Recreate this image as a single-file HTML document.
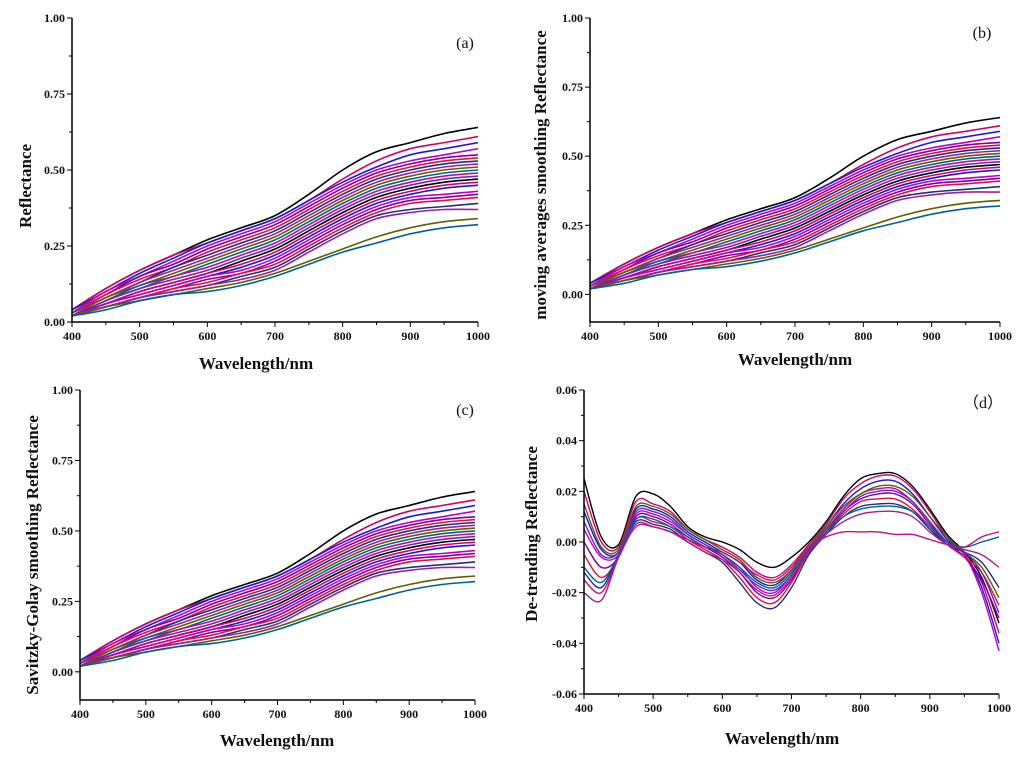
<!DOCTYPE html>
<html><head><meta charset="utf-8">
<style>
html,body{margin:0;padding:0;background:#fff;}
svg{display:block;font-family:"Liberation Serif",serif;}
.tk{font-size:12px;font-weight:bold;fill:#111;}
.tt{font-size:17px;font-weight:bold;fill:#111;}
.pl{font-size:16px;fill:#111;}
</style></head>
<body>
<svg id="fig" width="1024" height="761" viewBox="0 0 1024 761"></svg>
<script>
const wl = [400,450,500,550,600,650,700,750,800,850,900,950,1000];
const refl = [
[0.04,0.11,0.17,0.22,0.27,0.31,0.35,0.42,0.50,0.56,0.59,0.62,0.64],
[0.04,0.11,0.17,0.22,0.26,0.30,0.34,0.40,0.47,0.53,0.57,0.59,0.61],
[0.04,0.10,0.16,0.21,0.26,0.30,0.34,0.40,0.46,0.51,0.55,0.57,0.59],
[0.03,0.10,0.15,0.20,0.25,0.29,0.33,0.39,0.45,0.50,0.53,0.55,0.57],
[0.03,0.09,0.15,0.19,0.24,0.28,0.32,0.38,0.44,0.49,0.52,0.54,0.55],
[0.03,0.09,0.14,0.18,0.23,0.27,0.31,0.37,0.43,0.48,0.51,0.53,0.54],
[0.03,0.08,0.13,0.18,0.22,0.26,0.30,0.36,0.42,0.47,0.50,0.52,0.53],
[0.03,0.08,0.13,0.17,0.21,0.25,0.29,0.35,0.41,0.46,0.49,0.51,0.52],
[0.02,0.08,0.12,0.16,0.20,0.24,0.28,0.34,0.40,0.45,0.48,0.50,0.51],
[0.02,0.07,0.12,0.15,0.19,0.23,0.27,0.33,0.39,0.44,0.47,0.49,0.50],
[0.02,0.07,0.11,0.15,0.18,0.22,0.26,0.32,0.38,0.43,0.46,0.48,0.49],
[0.02,0.07,0.11,0.14,0.17,0.21,0.25,0.31,0.37,0.42,0.45,0.47,0.48],
[0.02,0.06,0.10,0.13,0.16,0.20,0.24,0.30,0.36,0.41,0.44,0.46,0.47],
[0.02,0.06,0.10,0.13,0.16,0.19,0.23,0.29,0.35,0.40,0.43,0.45,0.46],
[0.02,0.06,0.09,0.12,0.15,0.18,0.22,0.28,0.34,0.39,0.42,0.44,0.45],
[0.02,0.06,0.09,0.12,0.15,0.17,0.21,0.27,0.33,0.38,0.41,0.42,0.43],
[0.02,0.05,0.08,0.11,0.14,0.16,0.20,0.26,0.32,0.37,0.40,0.41,0.42],
[0.02,0.05,0.08,0.11,0.13,0.16,0.19,0.25,0.31,0.36,0.39,0.40,0.41],
[0.02,0.05,0.08,0.10,0.12,0.15,0.18,0.24,0.30,0.35,0.37,0.38,0.39],
[0.02,0.05,0.08,0.10,0.12,0.14,0.17,0.23,0.29,0.34,0.36,0.37,0.37],
[0.02,0.05,0.07,0.09,0.11,0.13,0.16,0.20,0.24,0.28,0.31,0.33,0.34],
[0.02,0.04,0.07,0.09,0.10,0.12,0.15,0.19,0.23,0.26,0.29,0.31,0.32]
];
const wlD = [400,425,450,475,500,525,550,575,600,625,650,675,700,725,750,775,800,825,850,875,900,925,950,975,1000];
const detr = [
[0.025,0.002,-0.001,0.018,0.019,0.014,0.006,0.002,0.000,-0.003,-0.008,-0.010,-0.006,0.000,0.008,0.018,0.025,0.027,0.027,0.022,0.013,0.003,-0.004,-0.014,-0.032],
[0.020,0.000,-0.002,0.016,0.015,0.012,0.005,0.001,-0.002,-0.006,-0.012,-0.014,-0.009,-0.001,0.007,0.017,0.023,0.026,0.026,0.021,0.012,0.002,-0.005,-0.016,-0.036],
[0.012,-0.003,-0.004,0.013,0.013,0.010,0.004,0.000,-0.004,-0.008,-0.015,-0.017,-0.011,-0.002,0.006,0.015,0.021,0.024,0.024,0.019,0.010,0.001,-0.005,-0.018,-0.040],
[0.005,-0.006,-0.005,0.011,0.011,0.008,0.003,-0.001,-0.005,-0.010,-0.018,-0.020,-0.013,-0.003,0.005,0.013,0.019,0.021,0.021,0.016,0.008,0.000,-0.005,-0.020,-0.043],
[0.000,-0.010,-0.006,0.010,0.010,0.007,0.002,-0.002,-0.006,-0.012,-0.020,-0.022,-0.015,-0.004,0.004,0.012,0.017,0.019,0.019,0.015,0.007,0.000,-0.006,-0.015,-0.030],
[-0.005,-0.014,-0.006,0.009,0.008,0.006,0.001,-0.003,-0.007,-0.014,-0.022,-0.024,-0.016,-0.004,0.004,0.011,0.016,0.017,0.017,0.013,0.006,-0.001,-0.006,-0.012,-0.025],
[-0.012,-0.018,-0.005,0.008,0.007,0.005,0.000,-0.004,-0.008,-0.016,-0.024,-0.026,-0.018,-0.005,0.003,0.010,0.014,0.015,0.015,0.012,0.005,-0.001,-0.004,-0.008,-0.018],
[-0.020,-0.023,-0.006,0.007,0.006,0.004,0.000,-0.004,-0.007,-0.012,-0.019,-0.021,-0.014,-0.004,0.003,0.008,0.011,0.012,0.012,0.010,0.004,-0.001,-0.003,-0.005,-0.010],
[0.015,-0.002,-0.003,0.014,0.014,0.011,0.005,0.001,-0.003,-0.007,-0.014,-0.016,-0.011,-0.002,0.006,0.014,0.019,0.022,0.022,0.018,0.010,0.002,-0.004,-0.010,-0.022],
[-0.010,-0.016,-0.005,0.009,0.009,0.006,0.002,-0.002,-0.005,-0.010,-0.016,-0.018,-0.012,-0.003,0.004,0.010,0.013,0.014,0.014,0.012,0.006,0.000,-0.002,0.000,0.002],
[-0.015,-0.020,-0.006,0.006,0.006,0.004,0.001,-0.002,-0.004,-0.008,-0.013,-0.015,-0.010,-0.002,0.002,0.004,0.004,0.004,0.003,0.003,0.001,-0.001,-0.002,0.002,0.004],
[0.008,-0.005,-0.004,0.012,0.012,0.009,0.003,-0.001,-0.005,-0.011,-0.017,-0.019,-0.013,-0.003,0.005,0.012,0.018,0.020,0.020,0.016,0.008,0.000,-0.004,-0.012,-0.028]
];
const colors = ["#000000","#d0006f","#1a1ad0","#c000c0","#8000a0","#e01040","#203080","#a02090","#606000","#0060a0","#c01080","#6a2ab0"];
const xTicks = [400,500,600,700,800,900,1000];
const yTicksR = [0,0.25,0.5,0.75,1.0];
const yTicksD = [-0.06,-0.04,-0.02,0,0.02,0.04,0.06];

const NS="http://www.w3.org/2000/svg";
const fig=document.getElementById('fig');
function mk(tag,attrs,parent){const e=document.createElementNS(NS,tag);for(const k in attrs)e.setAttribute(k,attrs[k]);(parent||fig).appendChild(e);return e;}
function smooth(pts){
  let d='M'+pts[0][0].toFixed(1)+','+pts[0][1].toFixed(1);
  for(let i=0;i<pts.length-1;i++){
    const p0=pts[Math.max(0,i-1)],p1=pts[i],p2=pts[i+1],p3=pts[Math.min(pts.length-1,i+2)];
    const c1x=p1[0]+(p2[0]-p0[0])/6,c1y=p1[1]+(p2[1]-p0[1])/6;
    const c2x=p2[0]-(p3[0]-p1[0])/6,c2y=p2[1]-(p3[1]-p1[1])/6;
    d+=`C${c1x.toFixed(1)},${c1y.toFixed(1)} ${c2x.toFixed(1)},${c2y.toFixed(1)} ${p2[0].toFixed(1)},${p2[1].toFixed(1)}`;
  }
  return d;
}

function panel(cfg){
  const g=mk('g',{});
  
  
  const X=v=>cfg.x0+(v-400)/600*(cfg.x1-cfg.x0);
  const Y=v=>cfg.yb-(v-cfg.ymin)/(cfg.ymax-cfg.ymin)*(cfg.yb-cfg.yt);
  const sg=mk('g',{fill:'none','stroke-width':cfg.sw,'stroke-linejoin':'round'},g);
  cfg.series.forEach((s,i)=>{
    const d=smooth(s.map((v,j)=>[X(cfg.xs[j]),Y(v)]));
    const p=mk('path',{d:d,stroke:colors[i%colors.length]},sg);
    
    
  });
  const ax=mk('path',{d:`M${cfg.x0},${cfg.yt}L${cfg.x0},${cfg.yb}L${cfg.x1},${cfg.yb}`,fill:'none',stroke:'#000','stroke-width':1.5},g);
  
  
  for(let v=400;v<=1000;v+=50){
    const major=v%100===0;
    mk('line',{x1:X(v),x2:X(v),y1:cfg.yb,y2:cfg.yb+(major?5:3),stroke:'#000','stroke-width':1},g);
  }
  xTicks.forEach(v=>{const t=mk('text',{x:X(v),y:cfg.yb+18,'text-anchor':'middle',class:'tk'},g);t.textContent=v;
    
    });
  const yt=cfg.yticks;
  for(let i=0;i<yt.length;i++){
    mk('line',{x1:cfg.x0-5,x2:cfg.x0,y1:Y(yt[i]),y2:Y(yt[i]),stroke:'#000'},g);
    if(i<yt.length-1){const m=(yt[i]+yt[i+1])/2;mk('line',{x1:cfg.x0-3,x2:cfg.x0,y1:Y(m),y2:Y(m),stroke:'#000'},g);}
    const t=mk('text',{x:cfg.x0-7,y:Y(yt[i])+4,'text-anchor':'end',class:'tk'},g);
    t.textContent=cfg.fmt(yt[i]);
    
    
  }
  const xt=mk('text',{x:cfg.xtx,y:cfg.xty,'text-anchor':'middle',class:'tt'},g);xt.textContent='Wavelength/nm';
  
  
  const ytt=mk('text',{x:0,y:0,'text-anchor':'middle',class:'tt',transform:`translate(${cfg.ytx},${cfg.yty}) rotate(-90)`},g);ytt.textContent=cfg.ytitle;
  
  
  const pl=mk('text',{x:cfg.plx,y:cfg.ply,'text-anchor':'middle',class:'pl'},g);pl.textContent=cfg.label;
  
  
}
const f2=v=>v.toFixed(2);
panel({name:'panel-a',x0:72,x1:478,yt:18,yb:322,ymin:0,ymax:1,xs:wl,series:refl,sw:1.6,yticks:yTicksR,fmt:f2,
  xtx:256,xty:369,ytitle:'Reflectance',ytx:31,yty:186,label:'(a)',plx:465,ply:48});
panel({name:'panel-b',x0:590,x1:1000,yt:18,yb:322,ymin:-0.1,ymax:1,xs:wl,series:refl,sw:1.6,yticks:yTicksR,fmt:f2,
  xtx:795,xty:365,ytitle:'moving averages smoothing Reflectance',ytx:546,yty:175,label:'(b)',plx:982,ply:38});
panel({name:'panel-c',x0:80,x1:475,yt:390,yb:700,ymin:-0.1,ymax:1,xs:wl,series:refl,sw:1.6,yticks:yTicksR,fmt:f2,
  xtx:277,xty:746,ytitle:'Savitzky-Golay smoothing Reflectance',ytx:38,yty:555,label:'(c)',plx:465,ply:415});
panel({name:'panel-d',x0:584,x1:999,yt:390,yb:694,ymin:-0.06,ymax:0.06,xs:wlD,series:detr,sw:1.4,yticks:yTicksD,fmt:f2,
  xtx:782,xty:744,ytitle:'De-trending Reflectance',ytx:537,yty:534,label:'（d）',plx:983,ply:408});
</script>
</body></html>
